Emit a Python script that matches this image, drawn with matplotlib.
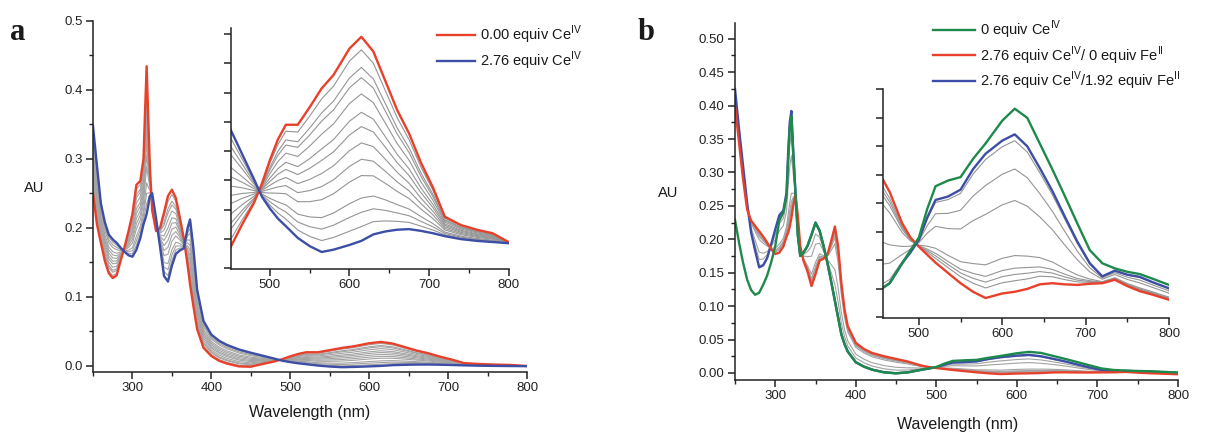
import numpy as np
import matplotlib.pyplot as plt
from matplotlib.ticker import MultipleLocator, FormatStrFormatter

plt.rcParams['font.family'] = ['Liberation Sans', 'DejaVu Sans']
plt.rcParams['mathtext.fontset'] = 'custom'
plt.rcParams['mathtext.rm'] = 'Liberation Sans'
plt.rcParams['text.color'] = '#1a1a1a'

# ---- panel a : Ce(IV) titration ----
wl_a = [250, 255, 260, 265, 270, 275, 280, 285, 290, 295, 300, 305, 310, 314, 316,
        318, 320, 322, 325, 330, 335, 340, 345, 350, 355, 360, 365, 370, 373, 377,
        382, 390, 400, 410, 420, 435, 450, 465, 480, 490, 500, 510, 520, 535, 550,
        565, 580, 600, 615, 630, 645, 660, 675, 690, 705, 720, 740, 760, 780, 800]
red_a = [0.25, 0.205, 0.178, 0.152, 0.134, 0.127, 0.131, 0.152, 0.172, 0.195, 0.22,
         0.262, 0.268, 0.30, 0.37, 0.434, 0.36, 0.29, 0.225, 0.195, 0.20, 0.222,
         0.246, 0.255, 0.243, 0.215, 0.185, 0.145, 0.118, 0.088, 0.053, 0.026,
         0.014, 0.007, 0.003, -0.001, -0.0015, 0.0025, 0.0062, 0.0095, 0.0135,
         0.017, 0.0195, 0.0195, 0.0225, 0.0257, 0.028, 0.0325, 0.0345, 0.032,
         0.027, 0.022, 0.018, 0.013, 0.0088, 0.0038, 0.0024, 0.0016, 0.001, -0.0005]
blue_a = [0.347, 0.29, 0.235, 0.208, 0.19, 0.183, 0.178, 0.171, 0.165, 0.16, 0.158,
          0.168, 0.185, 0.205, 0.212, 0.22, 0.232, 0.245, 0.25, 0.213, 0.172, 0.13,
          0.122, 0.145, 0.162, 0.167, 0.17, 0.2, 0.212, 0.173, 0.11, 0.065, 0.045,
          0.036, 0.03, 0.0235, 0.0188, 0.0145, 0.0102, 0.0072, 0.0052, 0.0035,
          0.0022, 0.0002, -0.0012, -0.0022, -0.0018, -0.001, -0.0003, 0.0008,
          0.0013, 0.0016, 0.0017, 0.0014, 0.001, 0.0005, 0.0, -0.0003, -0.0005, -0.0007]
# position of each intermediate spectrum between red (0) and blue (1)
gray_a = [0.064, 0.15, 0.2, 0.28, 0.37, 0.44, 0.52, 0.6, 0.68, 0.79, 0.86, 0.93]

# ---- panel b : Ce(IV) then Fe(II) ----
wl_b = [250, 255, 260, 265, 270, 275, 280, 285, 290, 295, 300, 305, 310, 314, 316,
        318, 320, 322, 325, 328, 331, 335, 340, 345, 350, 355, 360, 365, 370, 374,
        378, 382, 386, 390, 400, 410, 420, 435, 450, 465, 480, 490, 500, 510, 520,
        535, 550, 565, 580, 600, 615, 630, 645, 660, 675, 690, 705, 720, 735, 750,
        765, 780, 800]
green_b = [0.229, 0.195, 0.165, 0.14, 0.124, 0.117, 0.12, 0.132, 0.146, 0.166, 0.19,
           0.228, 0.24, 0.265, 0.32, 0.368, 0.384, 0.335, 0.27, 0.205, 0.175, 0.18,
           0.19, 0.207, 0.225, 0.213, 0.19, 0.163, 0.133, 0.108, 0.083, 0.058,
           0.043, 0.032, 0.016, 0.0095, 0.005, 0.001, -0.0005, 0.001, 0.0045,
           0.0068, 0.009, 0.014, 0.018, 0.019, 0.0196, 0.0228, 0.0255, 0.0295,
           0.0316, 0.030, 0.0255, 0.021, 0.0163, 0.0115, 0.0068, 0.0045, 0.0036,
           0.003, 0.0026, 0.0018, 0.0007]
red_b = [0.40, 0.345, 0.29, 0.245, 0.228, 0.22, 0.212, 0.204, 0.195, 0.185, 0.178,
         0.18, 0.189, 0.204, 0.21, 0.219, 0.232, 0.248, 0.266, 0.235, 0.19, 0.168,
         0.152, 0.13, 0.148, 0.168, 0.171, 0.178, 0.2, 0.219, 0.19, 0.135, 0.095,
         0.07, 0.045, 0.036, 0.03, 0.025, 0.021, 0.017, 0.0115, 0.009, 0.0074,
         0.006, 0.0046, 0.0028, 0.001, -0.0005, -0.0016, -0.0008, -0.0005, 0.0,
         0.0008, 0.001, 0.0008, 0.0007, 0.0009, 0.001, 0.0016, 0.0005, -0.0004,
         -0.001, -0.0019]
blue_b = [0.425, 0.365, 0.31, 0.255, 0.21, 0.183, 0.158, 0.161, 0.172, 0.193, 0.215,
          0.236, 0.243, 0.27, 0.33, 0.375, 0.392, 0.34, 0.272, 0.207, 0.175, 0.18,
          0.19, 0.207, 0.225, 0.213, 0.19, 0.163, 0.133, 0.108, 0.083, 0.058,
          0.043, 0.032, 0.016, 0.0095, 0.005, 0.001, -0.0005, 0.001, 0.0045,
          0.0064, 0.0086, 0.0125, 0.0156, 0.0162, 0.0174, 0.021, 0.0237, 0.026,
          0.0271, 0.025, 0.0212, 0.0172, 0.0127, 0.0083, 0.0045, 0.0022, 0.0032,
          0.0025, 0.0021, 0.0012, 0.0001]
# position of each intermediate spectrum between blue (0) and red (1)
gray_b = [0.04, 0.22, 0.42, 0.77, 0.85, 0.89, 0.93]

RED = '#e8402a'
BLUE = '#3c4ea5'
GREEN = '#1d8a4b'
GRAY = '#a3a3a3'

W, H = 1207, 433
fig = plt.figure(figsize=(W / 100, H / 100), dpi=100)


def box(l, t, r, b):
    return [l / W, 1 - b / H, (r - l) / W, (b - t) / H]


def style(ax, ymaj, ymin, fmt, ylabels=True, xmaj=100, xmin=50):
    for s in ['top', 'right']:
        ax.spines[s].set_visible(False)
    for s in ['left', 'bottom']:
        ax.spines[s].set_linewidth(1.1)
        ax.spines[s].set_color('#222222')
    ax.xaxis.set_major_locator(MultipleLocator(xmaj))
    ax.xaxis.set_minor_locator(MultipleLocator(xmin))
    ax.yaxis.set_major_locator(MultipleLocator(ymaj))
    if ymin:
        ax.yaxis.set_minor_locator(MultipleLocator(ymin))
    ax.yaxis.set_major_formatter(FormatStrFormatter(fmt))
    ax.tick_params(which='major', direction='out', length=5, width=1.1,
                   labelsize=9.5, colors='#222222', pad=2.5)
    ax.tick_params(which='minor', direction='out', length=3, width=1.0, colors='#222222')
    if not ylabels:
        ax.tick_params(axis='y', labelleft=False)


ra, ba = np.array(red_a), np.array(blue_a)
rb, bb = np.array(red_b), np.array(blue_b)

# panel a main
ax1 = fig.add_axes(box(93, 20.7, 527, 371.7))
for f in gray_a:
    ax1.plot(wl_a, (1 - f) * ra + f * ba, color=GRAY, lw=0.8)
l_red, = ax1.plot(wl_a, red_a, color=RED, lw=1.7)
l_blue, = ax1.plot(wl_a, blue_a, color=BLUE, lw=1.7)
ax1.set_xlim(250, 800)
ax1.set_ylim(-0.0087, 0.5)
style(ax1, 0.1, 0.05, '%.1f')

# panel a inset
ax2 = fig.add_axes(box(231, 28, 508.5, 269))
ax2.patch.set_alpha(0)
for f in gray_a:
    ax2.plot(wl_a, (1 - f) * ra + f * ba, color='#959595', lw=0.8)
ax2.plot(wl_a, red_a, color=RED, lw=1.7)
ax2.plot(wl_a, blue_a, color=BLUE, lw=1.7)
ax2.set_xlim(451, 800)
ax2.set_ylim(-0.0051, 0.036)
style(ax2, 0.005, None, '%.3f', ylabels=False)

fig.legend(handles=[l_red, l_blue],
           labels=[r'0.00 equiv Ce$^{\rm IV}$', r'2.76 equiv Ce$^{\rm IV}$'],
           loc='upper left', bbox_to_anchor=(437 / W, 1 - 24 / H), frameon=False,
           borderpad=0, borderaxespad=0, handlelength=2.6, handletextpad=0.35,
           labelspacing=0.25, fontsize=10.5)

# panel b main
ax3 = fig.add_axes(box(735, 22.7, 1178, 380))
for f in gray_b:
    ax3.plot(wl_b, (1 - f) * bb + f * rb, color=GRAY, lw=0.8)
l_b1, = ax3.plot(wl_b, blue_b, color=BLUE, lw=1.7)
l_r1, = ax3.plot(wl_b, red_b, color=RED, lw=1.7)
l_g1, = ax3.plot(wl_b, green_b, color=GREEN, lw=1.7)
ax3.set_xlim(250, 800)
ax3.set_ylim(-0.0105, 0.524)
style(ax3, 0.05, 0.025, '%.2f')

# panel b inset
ax4 = fig.add_axes(box(883, 89.3, 1169, 318))
ax4.patch.set_alpha(0)
for f in gray_b:
    ax4.plot(wl_b, (1 - f) * bb + f * rb, color='#959595', lw=0.8)
ax4.plot(wl_b, red_b, color=RED, lw=1.7)
ax4.plot(wl_b, blue_b, color=BLUE, lw=1.7)
ax4.plot(wl_b, green_b, color=GREEN, lw=1.7)
ax4.set_xlim(457, 800)
ax4.set_ylim(-0.0051, 0.035)
style(ax4, 0.005, None, '%.3f', ylabels=False)

fig.legend(handles=[l_g1, l_r1, l_b1],
           labels=[r'0 equiv Ce$^{\rm IV}$',
                   r'2.76 equiv Ce$^{\rm IV}$/ 0 equiv Fe$^{\rm II}$',
                   r'2.76 equiv Ce$^{\rm IV}$/1.92 equiv Fe$^{\rm II}$'],
           loc='upper left', bbox_to_anchor=(933 / W, 1 - 19 / H), frameon=False,
           borderpad=0, borderaxespad=0, handlelength=2.9, handletextpad=0.3,
           labelspacing=0.2, fontsize=10.5)

# labels
fig.text(34 / W, 1 - 188 / H, 'AU', fontsize=10.5, ha='center', va='center')
fig.text(668 / W, 1 - 193 / H, 'AU', fontsize=10.5, ha='center', va='center')
fig.text(310 / W, 1 - 413 / H, 'Wavelength (nm)', fontsize=11.5, ha='center', va='center')
fig.text(958 / W, 1 - 424 / H, 'Wavelength (nm)', fontsize=11.5, ha='center', va='center')
fig.text(18 / W, 1 - 32 / H, 'a', fontsize=22, fontweight='bold',
         family='Liberation Serif', ha='center', va='center')
fig.text(646 / W, 1 - 32 / H, 'b', fontsize=22, fontweight='bold',
         family='Liberation Serif', ha='center', va='center')

fig.savefig('out.png', dpi=100, facecolor='white')
